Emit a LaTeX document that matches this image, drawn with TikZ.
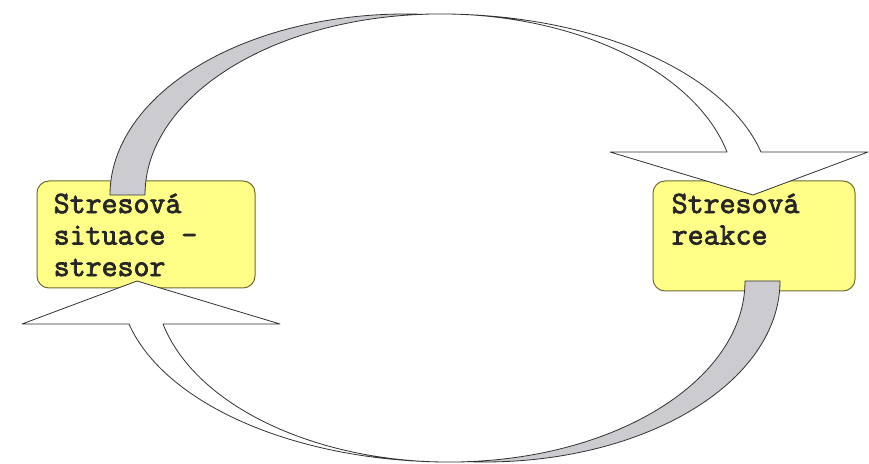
\documentclass[tikz,border=0pt]{standalone}
\usepackage{fontspec}
\setmonofont{Latin Modern Mono}[BoldFont={Latin Modern Mono}, BoldFeatures={FakeBold=2.5}]
\usetikzlibrary{positioning}
\definecolor{boxyellow}{RGB}{255,255,136}
\definecolor{boxedge}{RGB}{110,110,50}
\definecolor{backgray}{RGB}{204,204,208}
\definecolor{arrowedge}{RGB}{50,50,50}
\tikzset{
    stressbox/.style={draw=boxedge, fill=boxyellow, line width=1pt, rounded corners=12pt, inner sep=0pt},
    boxtext/.style={font=\ttfamily\bfseries\fontsize{31}{31.5}\selectfont, align=left, inner sep=0pt, text=black!85},
    backface/.style={draw=arrowedge, fill=backgray, line width=0.8pt, line join=round},
    frontface/.style={draw=arrowedge, fill=white, line width=0.8pt, line join=round}
}
\begin{document}
\begin{tikzpicture}[x=1pt, y=1pt]
    \fill[white] (0,0) rectangle (869,463);
    \useasboundingbox (0,0) rectangle (869,463);
    % boxes
    \node[stressbox, minimum width=218pt, minimum height=107pt] (sit) at (146,228.5) {};
    \node[stressbox, minimum width=202pt, minimum height=110pt] (rea) at (754,227) {};
    \node[boxtext, below right=13pt and 17pt of sit.north west] (sittext) {Stresová\\situace -\\stresor};
    \node[boxtext, below right=13pt and 19pt of rea.north west] (reatext) {Stresová\\reakce};
    % curved arrows, the lower one is the upper one turned round
    \foreach \rot in {0,180}{
        \begin{scope}[rotate around={\rot:(445,225)}]
            \draw[backface] (110,268) arc[start angle=180, end angle=86.6, x radius=295.2, y radius=181]
                arc[start angle=93.4, end angle=180, x radius=295.2, y radius=181] -- cycle;
            \draw[frontface] (753,268) -- (868,311) -- (761,311)
                arc[start angle=13.74, end angle=93.04, x radius=330.2, y radius=181]
                arc[start angle=93.4, end angle=13.74, x radius=295.2, y radius=181]
                -- (610,311) -- cycle;
        \end{scope}
    }
\end{tikzpicture}
\end{document}
